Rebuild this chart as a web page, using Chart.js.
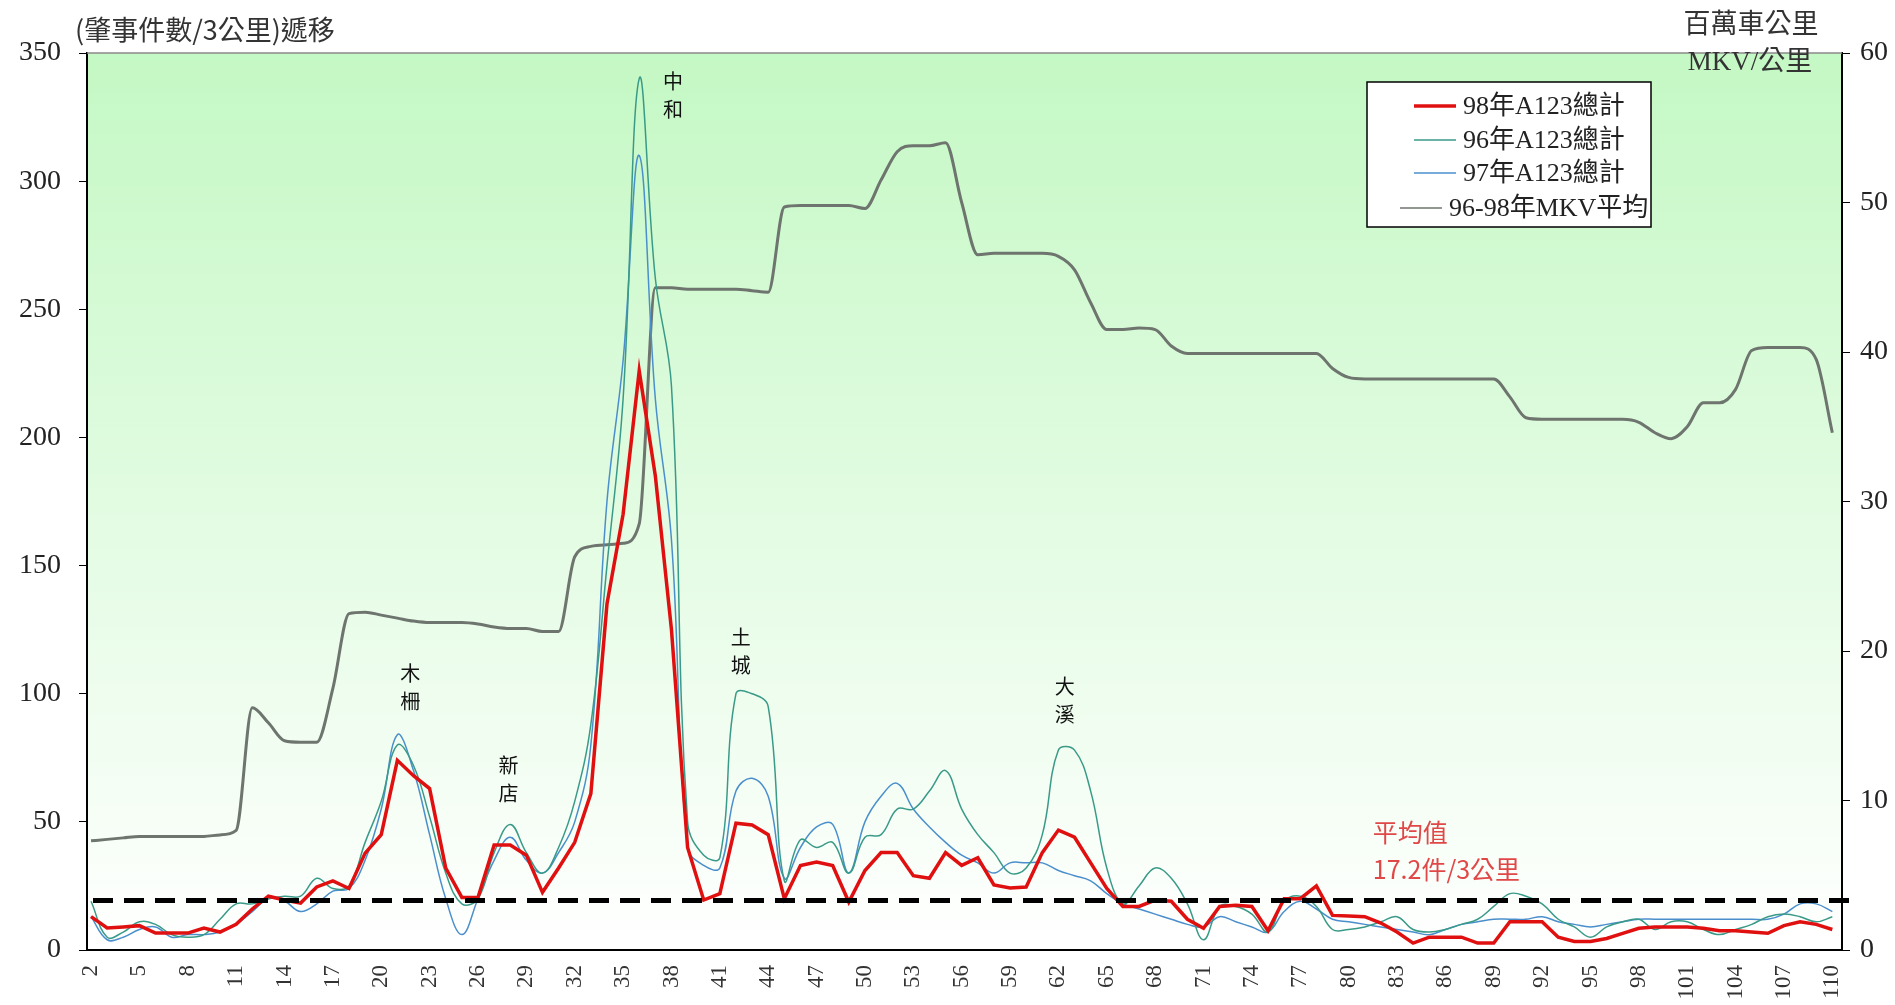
<!DOCTYPE html>
<html>
<head>
<meta charset="utf-8">
<title>肇事件數遞移</title>
<script src="https://cdn.jsdelivr.net/npm/chart.js@4.4.1/dist/chart.umd.min.js"></script>
<style>
    html, body { margin: 0; padding: 0; background: #fff; }
    #wrap { width: 1895px; height: 1005px; position: relative; }
</style>
</head>
<body>
<div id="wrap"><canvas id="myChart"></canvas></div>
<script>
// 里程 (公里)
const km = [
    2, 3, 4, 5, 6, 7, 8, 9, 10, 11,
    12, 13, 14, 15, 16, 17, 18, 19, 20, 21,
    22, 23, 24, 25, 26, 27, 28, 29, 30, 31,
    32, 33, 34, 35, 36, 37, 38, 39, 40, 41,
    42, 43, 44, 45, 46, 47, 48, 49, 50, 51,
    52, 53, 54, 55, 56, 57, 58, 59, 60, 61,
    62, 63, 64, 65, 66, 67, 68, 69, 70, 71,
    72, 73, 74, 75, 76, 77, 78, 79, 80, 81,
    82, 83, 84, 85, 86, 87, 88, 89, 90, 91,
    92, 93, 94, 95, 96, 97, 98, 99, 100, 101,
    102, 103, 104, 105, 106, 107, 108, 109, 110
];
const xTickLabels = [2, 5, 8, 11, 14, 17, 20, 23, 26, 29, 32, 35, 38, 41, 44, 47, 50, 53, 56,
    59, 62, 65, 68, 71, 74, 77, 80, 83, 86, 89, 92, 95, 98, 101, 104, 107, 110];

const a123y98 = [
    13, 8.6, 9, 9.5, 6.6, 6.6, 6.6, 8.6, 7, 10,
    16, 21, 19.5, 18.3, 24.6, 27, 24, 37.8, 45, 74,
    68, 63, 32, 20.5, 20.5, 41, 41, 37, 22.5, 32,
    42, 61, 135, 170, 226, 185, 125, 40, 19.5, 22,
    49.5, 48.8, 45, 20, 33, 34.3, 33, 18.7, 31, 38,
    38, 29, 28, 38, 33, 36, 25.4, 24.2, 24.6, 38,
    46.8, 44, 34, 24, 17, 17, 19.5, 19, 12, 8.5,
    17, 17.5, 17, 7.5, 20, 20, 25, 13.5, 13.3, 13,
    10.5, 7, 2.7, 5, 5, 5, 2.7, 2.7, 11, 11,
    11, 5, 3.3, 3.3, 4.5, 6.5, 8.5, 9, 9, 9,
    8.5, 7.5, 7.5, 7, 6.5, 9.5, 11, 10, 8
];
const a123y96 = [
    19, 5, 7, 11, 10, 6, 5, 6, 12, 18,
    18, 20, 21, 21, 28, 24, 25, 42, 58, 80,
    72, 52, 30, 18, 20, 38, 49, 38, 30, 40,
    58, 88, 150, 215, 340, 262, 220, 50, 37, 36,
    100, 100, 95, 27, 43, 40, 42, 30, 44, 45,
    55, 55, 62, 70, 55, 45, 38, 30, 32, 45,
    78, 78, 62, 32, 18, 25, 32, 28, 18, 4,
    17, 17, 14, 7, 19, 21, 17, 8, 8, 9,
    11, 13, 8, 7, 8, 10, 12, 17, 22, 21,
    18, 12, 9, 5, 9, 11, 12, 8, 11, 11,
    8, 6, 8, 10, 13, 14, 13, 11, 13
];
const a123y97 = [
    13, 4, 5, 8, 9, 5, 6, 6, 7, 10,
    15, 20, 19, 15, 18, 23, 24, 35, 55, 84,
    70, 45, 20, 6, 20, 35, 44, 35, 30, 38,
    50, 80, 175, 230, 310, 215, 160, 40, 33, 32,
    62, 67, 60, 28, 40, 48, 49, 30, 50, 60,
    65, 55, 48, 42, 37, 34, 30, 34, 34, 34,
    31, 29, 27, 22, 18, 16, 14, 12, 10, 9,
    13, 11, 9, 7, 15, 19, 16, 12, 11, 10,
    9, 8, 7, 6, 8, 10, 11, 12, 12, 12,
    13, 11, 10, 9, 10, 11, 12, 12, 12, 12,
    12, 12, 12, 12, 12, 14, 18, 18, 15
];
// 96-98年MKV平均 (百萬車公里/公里)
const mkvAvg = [
    7.3, 7.4, 7.5, 7.6, 7.6, 7.6, 7.6, 7.6, 7.7, 8.0,
    16.2, 15.2, 14.0, 13.9, 13.9, 17.5, 22.5, 22.6, 22.4, 22.2,
    22.0, 21.9, 21.9, 21.9, 21.8, 21.6, 21.5, 21.5, 21.3, 21.3,
    26.3, 27.0, 27.1, 27.2, 28.5, 44.3, 44.3, 44.2, 44.2, 44.2,
    44.2, 44.1, 44.0, 49.7, 49.8, 49.8, 49.8, 49.8, 49.6, 51.5,
    53.4, 53.8, 53.8, 54.0, 50.0, 46.5, 46.6, 46.6, 46.6, 46.6,
    46.4, 45.5, 43.3, 41.5, 41.5, 41.6, 41.5, 40.4, 39.9, 39.9,
    39.9, 39.9, 39.9, 39.9, 39.9, 39.9, 39.9, 38.9, 38.3, 38.2,
    38.2, 38.2, 38.2, 38.2, 38.2, 38.2, 38.2, 38.2, 37.0, 35.6,
    35.5, 35.5, 35.5, 35.5, 35.5, 35.5, 35.3, 34.6, 34.2, 35.0,
    36.6, 36.6, 37.5, 40.1, 40.3, 40.3, 40.3, 39.5, 34.6
];

// 平均值 dashed line (as drawn)
const avgLevel = 19.3;

// station notes: name, km, value of first character
const stationNames = ['木柵', '新店', '中和', '土城', '大溪'];
const stationKm = [21.8, 27.9, 38.1, 42.3, 62.4];
const stationLevel = [108, 72, 339, 122, 103];

const serif = "'Liberation Serif', 'Noto Sans CJK TC', serif";
const cjk = "'Noto Sans CJK TC', 'Noto Sans', sans-serif";

function toPoints(values)
{
    return km.map((k, i) => ({ x: k, y: values[i] }));
}

const plotBackground = {
    id: 'plotBackground',
    beforeDraw(chart) {
        const { ctx, chartArea: a } = chart;
        const g = ctx.createLinearGradient(0, a.top, 0, a.bottom);
        g.addColorStop(0, '#c4f8c4');
        g.addColorStop(1, '#ffffff');
        ctx.save();
        ctx.fillStyle = g;
        ctx.fillRect(a.left, a.top, a.right - a.left, a.bottom - a.top);
        ctx.restore();
    }
};

const overlays = {
    id: 'overlays',
    afterDatasetsDraw(chart) {
        const { ctx, chartArea: a, scales } = chart;
        ctx.save();

        // average line
        const yAvg = scales.y.getPixelForValue(avgLevel);
        ctx.strokeStyle = '#000';
        ctx.lineWidth = 5;
        ctx.setLineDash([20, 11]);
        ctx.beginPath();
        ctx.moveTo(a.left + 6, yAvg);
        ctx.lineTo(a.right + 8, yAvg);
        ctx.stroke();
        ctx.setLineDash([]);

        // station names, written vertically
        ctx.fillStyle = '#111';
        ctx.font = '20px ' + cjk;
        ctx.textAlign = 'center';
        ctx.textBaseline = 'middle';
        stationNames.forEach((name, i) => {
            const x = scales.x.getPixelForValue(stationKm[i]);
            const y = scales.y.getPixelForValue(stationLevel[i]);
            [...name].forEach((ch, j) => ctx.fillText(ch, x, y + j * 28));
        });

        // average note
        ctx.fillStyle = '#e04848';
        ctx.font = '25px ' + cjk;
        ctx.textAlign = 'left';
        const xNote = scales.x.getPixelForValue(81.5);
        ctx.fillText('平均值', xNote, scales.y.getPixelForValue(45.8));
        ctx.fillText('17.2件/3公里', xNote, scales.y.getPixelForValue(31.6));
        ctx.restore();
    },
    afterDraw(chart) {
        const { ctx, chartArea: a } = chart;
        ctx.save();

        // top frame line
        ctx.strokeStyle = '#8a8a8a';
        ctx.lineWidth = 1.5;
        ctx.beginPath();
        ctx.moveTo(a.left, a.top);
        ctx.lineTo(a.right, a.top);
        ctx.stroke();

        // axis titles
        ctx.fillStyle = '#333';
        ctx.textBaseline = 'middle';
        ctx.textAlign = 'left';
        ctx.font = '27px ' + cjk;
        ctx.fillText('(肇事件數/3公里)遞移', 75, 30);
        ctx.textAlign = 'center';
        ctx.fillText('百萬車公里', 1751, 23);
        ctx.font = '27px ' + serif;
        ctx.fillText('MKV/公里', 1750, 63);

        // legend
        const box = { x: 1367, y: 82, w: 284, h: 145 };
        ctx.fillStyle = '#fff';
        ctx.fillRect(box.x, box.y, box.w, box.h);
        ctx.strokeStyle = '#000';
        ctx.lineWidth = 1.5;
        ctx.strokeRect(box.x, box.y, box.w, box.h);

        const rowsY = [106, 140, 173, 208];
        ctx.font = '26px ' + serif;
        ctx.textAlign = 'left';
        chart.data.datasets.forEach((ds, i) => {
            const x0 = i === 3 ? 1400 : 1414;
            const y = rowsY[i];
            ctx.strokeStyle = ds.borderColor;
            ctx.lineWidth = i === 0 ? 3.5 : 1.5;
            ctx.beginPath();
            ctx.moveTo(x0, y);
            ctx.lineTo(x0 + 42, y);
            ctx.stroke();
            ctx.fillStyle = '#222';
            ctx.fillText(ds.label, x0 + 49, y + 1);
        });
        ctx.restore();
    }
};

const config = {
    type: 'line',
    data: {
        datasets: [
            {
                label: '98年A123總計',
                data: toPoints(a123y98),
                borderColor: '#e01010',
                borderWidth: 3.5,
                tension: 0,
                yAxisID: 'y',
            },
            {
                label: '96年A123總計',
                data: toPoints(a123y96),
                borderColor: '#3a9a88',
                borderWidth: 1.5,
                tension: 0.4,
                yAxisID: 'y',
            },
            {
                label: '97年A123總計',
                data: toPoints(a123y97),
                borderColor: '#4a8fcc',
                borderWidth: 1.5,
                tension: 0.4,
                yAxisID: 'y',
            },
            {
                label: '96-98年MKV平均',
                data: toPoints(mkvAvg),
                borderColor: '#6e746e',
                borderWidth: 3,
                cubicInterpolationMode: 'monotone',
                yAxisID: 'y1',
            }
        ]
    },
    options: {
        responsive: true,
        maintainAspectRatio: false,
        animation: false,
        layout: {
            padding: { top: 53, left: 0, right: 0, bottom: 0 }
        },
        elements: {
            point: { radius: 0 }
        },
        plugins: {
            legend: { display: false },
            tooltip: { enabled: false }
        },
        scales: {
            x: {
                type: 'linear',
                min: 1.75,
                max: 110.6,
                grid: { display: false, drawTicks: false },
                border: { display: true, color: '#000', width: 2 },
                afterBuildTicks(scale) {
                    scale.ticks = xTickLabels.map(v => ({ value: v }));
                },
                afterFit(scale) {
                    scale.height = 55;
                },
                ticks: {
                    autoSkip: false,
                    minRotation: 90,
                    maxRotation: 90,
                    padding: 15,
                    color: '#333',
                    font: { family: serif, size: 23 },
                    callback: (value) => String(value)
                }
            },
            y: {
                position: 'left',
                min: 0,
                max: 350,
                grid: { drawOnChartArea: false, tickLength: 8, color: '#000' },
                border: { display: true, color: '#000', width: 2 },
                afterFit(scale) {
                    scale.width = 87;
                },
                ticks: {
                    stepSize: 50,
                    padding: 18,
                    color: '#222',
                    font: { family: serif, size: 28 }
                }
            },
            y1: {
                position: 'right',
                min: 0,
                max: 60,
                grid: { drawOnChartArea: false, tickLength: 8, color: '#000' },
                border: { display: true, color: '#000', width: 2 },
                afterFit(scale) {
                    scale.width = 53;
                },
                ticks: {
                    stepSize: 10,
                    padding: 10,
                    color: '#222',
                    font: { family: serif, size: 28 }
                }
            }
        }
    },
    plugins: [plotBackground, overlays]
};

const ctx = document.getElementById('myChart').getContext('2d');

if (ctx) {
    new Chart(ctx, config);
}
</script>
</body>
</html>
